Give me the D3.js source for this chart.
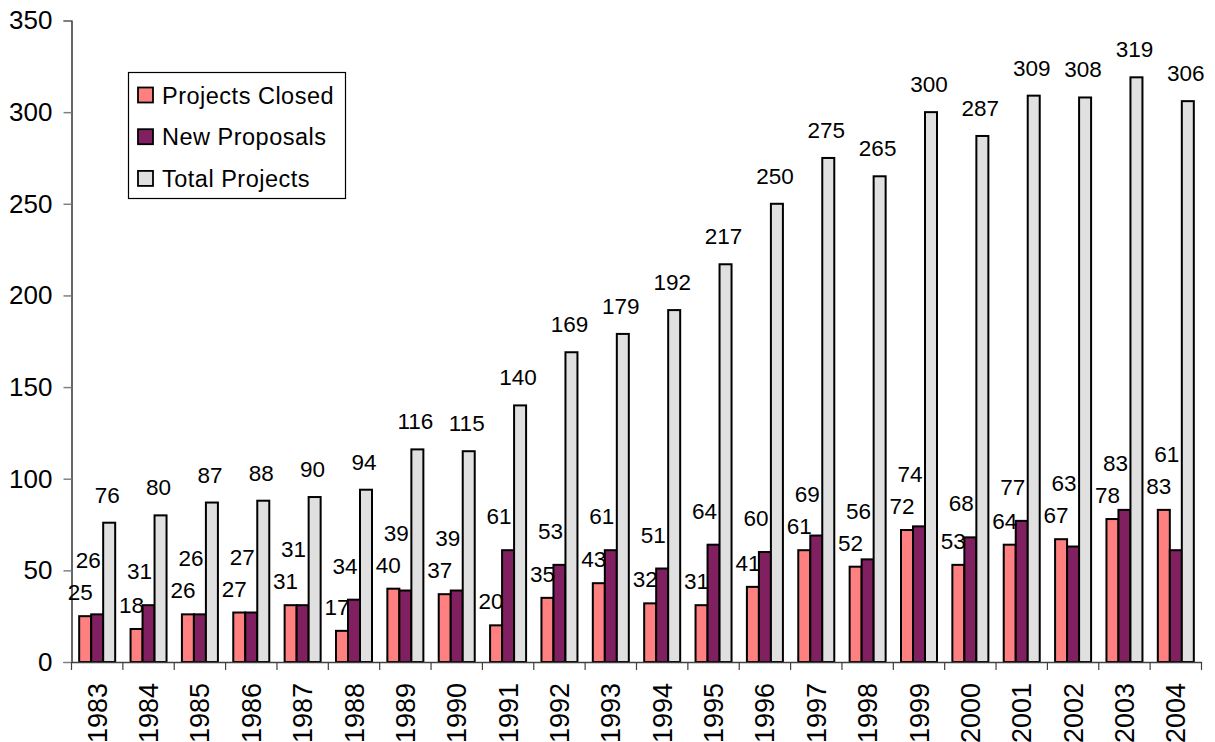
<!DOCTYPE html>
<html><head><meta charset="utf-8">
<script src="https://cdn.jsdelivr.net/npm/d3@7"></script>
<style>
html,body{margin:0;padding:0;background:#fff;}
text{font-family:"Liberation Sans",Arial,sans-serif;fill:#000;}
</style></head>
<body>
<svg id="chart" width="1215" height="742"></svg>
<script>
const years = ["1983","1984","1985","1986","1987","1988","1989","1990","1991","1992","1993","1994","1995","1996","1997","1998","1999","2000","2001","2002","2003","2004"];
const projectsClosed = [25,18,26,27,31,17,40,37,20,35,43,32,31,41,61,52,72,53,64,67,78,83];
const newProposals   = [26,31,26,27,31,34,39,39,61,53,61,51,64,60,69,56,74,68,77,63,83,61];
const totalProjects  = [76,80,87,88,90,94,116,115,140,169,179,192,217,250,275,265,300,287,309,308,319,306];
const seriesNames = ["Projects Closed","New Proposals","Total Projects"];
const yTicks = [0,50,100,150,200,250,300,350];
const colors = ["#FF8080","#802060","#E0E0E0"];

(function () {
const svg = d3.select("#chart");
const mLeft = 71.5, mRight = 1201.5, mTop = 20.5, mBottom = 662;
const x = d3.scaleBand().domain(years).range([mLeft, mRight]).padding(0);
const xi = d3.scaleBand().domain(seriesNames).range([0, x.bandwidth()]).paddingInner(0).paddingOuter(0.64);
const y = d3.scaleLinear().domain([0, 350]).range([mBottom, mTop]);

const series = [projectsClosed, newProposals, totalProjects];

// y axis
const yAxis = d3.axisLeft(y).tickValues(yTicks).tickSize(8).tickPadding(11).tickFormat(d3.format("d"));
const gy = svg.append("g").attr("transform", `translate(${mLeft},0)`).call(yAxis);
gy.select(".domain").attr("stroke", "#000").attr("stroke-width", 1.2);
gy.selectAll(".tick line").attr("stroke", "#808080").attr("stroke-width", 1.5);
gy.selectAll(".tick text").attr("font-size", 26).attr("font-family", "Liberation Sans, Arial, sans-serif").attr("fill", "#000");

// bars
const groups = svg.append("g").selectAll("g").data(years).join("g")
  .attr("transform", d => `translate(${x(d)},0)`);
series.forEach((vals, si) => {
  groups.append("rect")
    .attr("x", xi(seriesNames[si]))
    .attr("width", xi.bandwidth())
    .attr("y", (d, i) => y(vals[i]))
    .attr("height", (d, i) => y(0) - y(vals[i]))
    .attr("fill", colors[si])
    .attr("stroke", "#000")
    .attr("stroke-width", 2);
});

// x axis
const xAxis = d3.axisBottom(x).tickSize(0).tickFormat("");
const gx = svg.append("g").attr("transform", `translate(0,${mBottom})`).call(xAxis);
gx.select(".domain").attr("stroke", "#404040").attr("stroke-width", 1.5);
// category boundary ticks
const bounds = years.map(d => x(d)).concat([mRight]);
svg.append("g").selectAll("line").data(bounds).join("line")
  .attr("x1", d => d).attr("x2", d => d)
  .attr("y1", mBottom).attr("y2", mBottom + 8)
  .attr("stroke", "#404040").attr("stroke-width", 1.2);
// year labels
svg.append("g").selectAll("text").data(years).join("text")
  .attr("transform", d => `translate(${x(d) + x.bandwidth() / 2 + 9.5},683) rotate(-90)`)
  .attr("text-anchor", "end")
  .attr("font-size", 27)
  .text(d => d);

// data labels
const fs = 22.5;
const lbl = svg.append("g").attr("font-size", fs);
years.forEach((yr, i) => {
  const cx0 = x(yr) + xi(seriesNames[0]) + xi.bandwidth() / 2;
  const cx1 = x(yr) + xi(seriesNames[1]) + xi.bandwidth() / 2;
  const cx2 = x(yr) + xi(seriesNames[2]) + xi.bandwidth() / 2;
  const yc0 = y(projectsClosed[i]) - 24;
  const yc1 = Math.min(y(newProposals[i]) - 34, yc0 - 32);
  const yc2 = y(totalProjects[i]) - 28;
  lbl.append("text").attr("x", cx0 - 5).attr("y", yc0 + 8).attr("text-anchor", "middle").text(projectsClosed[i]);
  lbl.append("text").attr("x", cx1 - 9).attr("y", yc1 + 8).attr("text-anchor", "middle").text(newProposals[i]);
  lbl.append("text").attr("x", cx2 - 2).attr("y", yc2 + 8).attr("text-anchor", "middle").text(totalProjects[i]);
});

// legend
const lg = svg.append("g");
lg.append("rect").attr("x", 128.5).attr("y", 72.5).attr("width", 217).attr("height", 126)
  .attr("fill", "#fff").attr("stroke", "#000").attr("stroke-width", 1.2);
seriesNames.forEach((name, i) => {
  const cy = 95 + i * 41.7;
  lg.append("rect").attr("x", 138).attr("y", cy - 7.5).attr("width", 15).attr("height", 15)
    .attr("fill", colors[i]).attr("stroke", "#000").attr("stroke-width", 1.8);
  lg.append("text").attr("x", 162).attr("y", cy + 8.5).attr("font-size", 23.5)
    .attr("letter-spacing", 0.5).text(name);
});
})();
</script>
</body></html>
